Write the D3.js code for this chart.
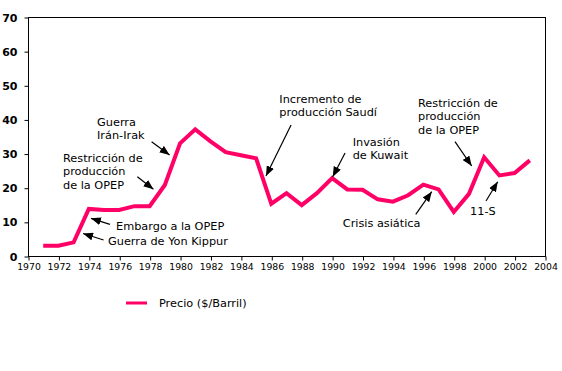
<!DOCTYPE html>
<html><head><meta charset="utf-8">
<script src="https://cdn.jsdelivr.net/npm/d3@7"></script>
<style>
body{margin:0;background:#fff;}
svg{display:block;}
text{font-family:"DejaVu Sans",Verdana,sans-serif;fill:#000;}
</style></head>
<body>
<svg id="c" width="562" height="371"></svg>
<script>
const years = [1971,1972,1973,1974,1975,1976,1977,1978,1979,1980,1981,1982,1983,1984,1985,1986,1987,1988,1989,1990,1991,1992,1993,1994,1995,1996,1997,1998,1999,2000,2001,2002,2003];
const prices = [3.0,3.0,4.0,13.8,13.5,13.5,14.6,14.6,20.8,33.0,37.1,33.6,30.4,29.5,28.6,15.3,18.4,14.9,18.4,22.8,19.5,19.4,16.6,15.9,17.8,20.9,19.5,12.9,18.2,28.9,23.6,24.3,28.0];
const xTicks = d3.range(1970, 2005, 2);
const yTicks = [0,10,20,30,40,50,60,70];
const seriesName = "Precio ($/Barril)";
const notes = [
  {lines:["Guerra de Yon Kippur"], tx:1975.26, ty:4.39, from:[1974.97,4.69], to:[1973.62,6.59]},
  {lines:["Embargo a la OPEP"], tx:1975.79, ty:8.79, from:[1975.39,9.28], to:[1974.14,11.04]},
  {lines:["Restricción de","producción","de la OPEP"], tx:1972.30, ty:28.70, from:[1977.19,23.23], to:[1978.25,19.54]},
  {lines:["Guerra","Irán-Irak"], tx:1974.54, ty:39.25, from:[1978.13,33.48], to:[1979.31,29.58]},
  {lines:["Incremento de","producción Saudí"], tx:1986.53, ty:45.98, from:[1987.30,38.37], to:[1985.65,23.43]},
  {lines:["Invasión","de Kuwait"], tx:1991.35, ty:33.39, from:[1990.85,30.17], to:[1990.04,23.23]},
  {lines:["Crisis asiática"], tx:1990.70, ty:9.67, from:[1995.50,12.21], to:[1996.55,18.83]},
  {lines:["Restricción de","producción","de la OPEP"], tx:1995.65, ty:44.81, from:[1998.08,33.48], to:[1999.18,26.36]},
  {lines:["11-S"], tx:1999.07, ty:13.18, from:[2000.12,16.11], to:[2000.89,21.76]}
];

const svg = d3.select("#c");
const L=28, R=545, T=17, B=256;
const x = d3.scaleLinear().domain([1970,2004]).range([L,R]);
const y = d3.scaleLinear().domain([0,70]).range([B,T]);
const color = "#FF0066";

// frame
svg.append("rect").attr("x",L+0.5).attr("y",T+0.5).attr("width",R-L).attr("height",B-T)
  .attr("fill","none").attr("stroke","#000").attr("stroke-width",1);

// y axis
const ya = svg.append("g").attr("transform",`translate(${L+0.5},0.5)`)
  .call(d3.axisLeft(y).tickValues(yTicks).tickSize(4).tickPadding(7));
ya.select(".domain").remove();
ya.selectAll("text").style("font-family","'DejaVu Sans',Verdana,sans-serif")
  .style("font-size","11px").style("font-weight","bold");

// x axis
const xa = svg.append("g").attr("transform",`translate(0.5,${B+0.5})`)
  .call(d3.axisBottom(x).tickValues(xTicks).tickFormat(d3.format("d")).tickSize(4).tickPadding(3));
xa.select(".domain").remove();
xa.selectAll("text").style("font-family","'DejaVu Sans',Verdana,sans-serif")
  .style("font-size","9.3px");

// line
svg.append("path").datum(years.map((d,i)=>[d,prices[i]]))
  .attr("fill","none").attr("stroke",color).attr("stroke-width",4)
  .attr("stroke-linejoin","miter")
  .attr("d", d3.line().x(d=>x(d[0])).y(d=>y(d[1])));

// arrow marker
svg.append("defs").append("marker").attr("id","ah")
  .attr("viewBox","0 0 10 8").attr("refX",10).attr("refY",4)
  .attr("markerWidth",10).attr("markerHeight",8).attr("markerUnits","userSpaceOnUse")
  .attr("orient","auto")
  .append("path").attr("d","M0,0L10,4L0,8Z").attr("fill","#000");

// annotations
const g = svg.append("g");
notes.forEach(n=>{
  const t = g.append("text").attr("x",x(n.tx)).attr("y",y(n.ty))
    .style("font-size","11.3px");
  n.lines.forEach((s,i)=>{
    t.append("tspan").attr("x",x(n.tx)).attr("dy", i===0? "0.35em" : "13.3").text(s);
  });
  g.append("line").attr("x1",x(n.from[0])).attr("y1",y(n.from[1]))
    .attr("x2",x(n.to[0])).attr("y2",y(n.to[1]))
    .attr("stroke","#000").attr("stroke-width",1.2).attr("marker-end","url(#ah)");
});

// legend
const lg = svg.append("g");
lg.append("line").attr("x1",126).attr("x2",147).attr("y1",303).attr("y2",303)
  .attr("stroke",color).attr("stroke-width",3);
lg.append("text").attr("x",159).attr("y",303).attr("dy","0.35em")
  .style("font-size","11.3px").text(seriesName);
</script>
</body></html>
